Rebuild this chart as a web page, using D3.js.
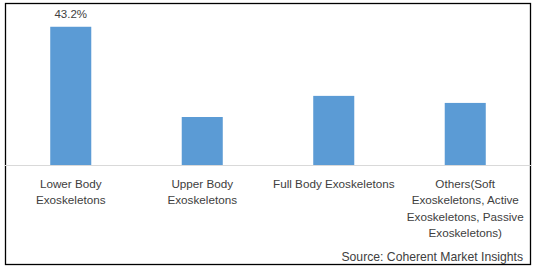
<!DOCTYPE html>
<html>
<head>
<meta charset="utf-8">
<script src="https://cdn.jsdelivr.net/npm/d3@7"></script>
<style>
  body { margin: 0; background: #fff; }
  svg { display: block; }
</style>
</head>
<body>
<svg id="chart" width="538" height="272"></svg>
<script>
// data (share of market, %)
const categories = ["Lower Body", "Upper Body", "Full Body", "Others"];
const labelLines = [
  ["Lower Body", "Exoskeletons"],
  ["Upper Body", "Exoskeletons"],
  ["Full Body Exoskeletons"],
  ["Others(Soft", "Exoskeletons, Active", "Exoskeletons, Passive", "Exoskeletons)"]
];
const shares = [43.2, 15.0, 21.6, 19.4];
const valueLabels = ["43.2%", "", "", ""];
const sourceText = "Source: Coherent Market Insights";

const svg = d3.select("#chart");

// frame
svg.append("rect")
  .attr("x", 5.5).attr("y", 3.5)
  .attr("width", 525).attr("height", 261)
  .attr("fill", "#fff")
  .attr("stroke", "#000")
  .attr("stroke-width", 1.3);

let x = d3.scaleBand()
  .domain(categories)
  .range([5, 531])
  .paddingInner(0.688)
  .paddingOuter(0.344);

let y = d3.scaleLinear()
  .domain([0, 50])
  .range([165, 5]);

// bars
svg.append("g")
  .selectAll("rect")
  .data(shares)
  .enter()
  .append("rect")
  .attr("x", (d, i) => x(categories[i]))
  .attr("y", d => y(d))
  .attr("width", x.bandwidth())
  .attr("height", d => y(0) - y(d))
  .attr("fill", "#5b9bd5");

// baseline
svg.append("line")
  .attr("x1", 5).attr("x2", 531)
  .attr("y1", y(0) + 0.5).attr("y2", y(0) + 0.5)
  .attr("stroke", "#d9d9d9")
  .attr("stroke-width", 1);

// value label (only the first one is shown in the original)
svg.append("g")
  .selectAll("text")
  .data(shares)
  .enter()
  .append("text")
  .attr("x", (d, i) => x(categories[i]) + x.bandwidth() / 2)
  .attr("y", d => y(d) - 8.5)
  .attr("text-anchor", "middle")
  .attr("font-family", "'Liberation Sans', Arial, sans-serif")
  .attr("font-size", 11.5)
  .attr("fill", "#404040")
  .text((d, i) => valueLabels[i]);

// category labels
let cat = svg.append("g")
  .selectAll("text")
  .data(categories)
  .enter()
  .append("text")
  .attr("x", d => x(d) + x.bandwidth() / 2)
  .attr("y", 188)
  .attr("text-anchor", "middle")
  .attr("font-family", "'Liberation Sans', Arial, sans-serif")
  .attr("font-size", 11.7)
  .attr("fill", "#404040");

cat.selectAll("tspan")
  .data((d, i) => labelLines[i])
  .enter()
  .append("tspan")
  .attr("x", function () { return d3.select(this.parentNode).attr("x"); })
  .attr("dy", (d, j) => j === 0 ? 0 : 16.3)
  .text(d => d);

// source
svg.append("text")
  .attr("x", 523)
  .attr("y", 260.5)
  .attr("text-anchor", "end")
  .attr("font-family", "'Liberation Sans', Arial, sans-serif")
  .attr("font-size", 12.2)
  .attr("fill", "#404040")
  .text(sourceText);
</script>
</body>
</html>
